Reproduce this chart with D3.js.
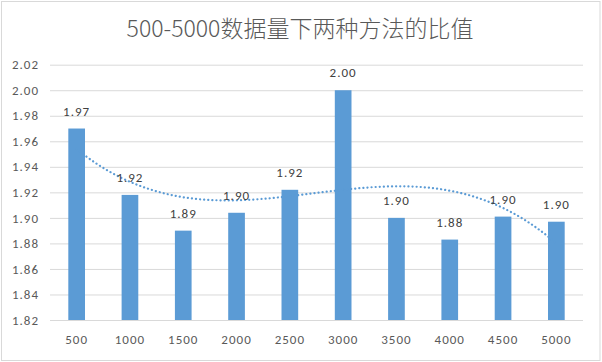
<!DOCTYPE html>
<html>
<head>
<meta charset="utf-8">
<script src="https://cdn.jsdelivr.net/npm/d3@7"></script>
<style>
  body { margin: 0; background: #fff; }
  svg text { font-family: Calibri, Carlito, "Liberation Sans", "Noto Sans", sans-serif; }
</style>
</head>
<body>
<svg id="chart" width="602" height="362"></svg>
<script>
const categories = ['500', '1000', '1500', '2000', '2500', '3000', '3500', '4000', '4500', '5000']
const ratios = [1.970, 1.918, 1.890, 1.904, 1.922, 2.000, 1.900, 1.883, 1.901, 1.897]
const yTicks = [1.82, 1.84, 1.86, 1.88, 1.90, 1.92, 1.94, 1.96, 1.98, 2.00, 2.02]
const title = '500-5000数据量下两种方法的比值'

const svg = d3.select('#chart')
const width = +svg.attr('width')
const height = +svg.attr('height')
const barColor = '#5b9bd5'
const gridColor = '#d9d9d9'
const textColor = '#595959'

const plotLeft = 50, plotRight = 583, plotTop = 64.7, plotBottom = 320

// outer border
svg.append('rect')
  .attr('x', 1.5).attr('y', 1.5)
  .attr('width', width - 3.5).attr('height', height - 3)
  .attr('fill', '#fff')
  .attr('stroke', gridColor)

svg.append('text')
  .attr('x', 300).attr('y', 37)
  .attr('text-anchor', 'middle')
  .attr('font-size', '23px')
  .attr('fill', textColor)
  .style('font-family', '"Noto Sans CJK SC", "Noto Sans", sans-serif')
  .style('font-weight', 300)
  .text(title)

const x = d3.scaleBand()
  .domain(categories)
  .range([plotLeft, plotRight])
  .paddingInner(0.687)
  .paddingOuter(0.687 / 2)

const y = d3.scaleLinear()
  .domain([1.82, 2.02])
  .range([plotBottom, plotTop])

// grid
const yAxis = d3.axisLeft(y)
  .tickValues(yTicks)
  .tickFormat(d3.format('.2f'))
  .tickSize(-(plotRight - plotLeft))
  .tickPadding(11)

const gy = svg.append('g')
  .attr('transform', `translate(${plotLeft},0)`)
  .call(yAxis)
gy.select('.domain').remove()
gy.selectAll('.tick line').attr('stroke', gridColor).attr('stroke-width', 1)
gy.selectAll('.tick text')
  .attr('fill', textColor)
  .attr('font-size', '13px')
  .style('letter-spacing', '1px')

// bars
svg.append('g').selectAll('rect')
  .data(ratios)
  .join('rect')
  .attr('x', (d, i) => x(categories[i]))
  .attr('y', d => y(d))
  .attr('width', x.bandwidth())
  .attr('height', d => y(1.82) - y(d))
  .attr('fill', barColor)

// x labels
svg.append('g').selectAll('text')
  .data(categories)
  .join('text')
  .attr('x', d => x(d) + x.bandwidth() / 2)
  .attr('y', 343.5)
  .attr('text-anchor', 'middle')
  .attr('font-size', '13px')
  .attr('fill', textColor)
  .style('letter-spacing', '1px')
  .text(d => d)

// polynomial trendline (order 3, least squares on index 1..n)
function polyFit(ys, order) {
  const n = ys.length, m = order + 1
  const A = [], b = []
  for (let r = 0; r < m; r++) {
    A.push(new Array(m).fill(0)); b.push(0)
  }
  ys.forEach((v, i) => {
    const xi = i + 1
    for (let r = 0; r < m; r++) {
      for (let c = 0; c < m; c++) A[r][c] += Math.pow(xi, r + c)
      b[r] += v * Math.pow(xi, r)
    }
  })
  // gaussian elimination
  for (let c = 0; c < m; c++) {
    let p = c
    for (let r = c + 1; r < m; r++) if (Math.abs(A[r][c]) > Math.abs(A[p][c])) p = r
    ;[A[c], A[p]] = [A[p], A[c]]; [b[c], b[p]] = [b[p], b[c]]
    for (let r = c + 1; r < m; r++) {
      const f = A[r][c] / A[c][c]
      for (let k = c; k < m; k++) A[r][k] -= f * A[c][k]
      b[r] -= f * b[c]
    }
  }
  const coef = new Array(m).fill(0)
  for (let r = m - 1; r >= 0; r--) {
    let s = b[r]
    for (let k = r + 1; k < m; k++) s -= A[r][k] * coef[k]
    coef[r] = s / A[r][r]
  }
  return t => coef.reduce((acc, c, k) => acc + c * Math.pow(t, k), 0)
}

const trend = polyFit(ratios, 3)
const xt = d3.scaleLinear()
  .domain([1, categories.length])
  .range([x(categories[0]) + x.bandwidth() / 2, x(categories[categories.length - 1]) + x.bandwidth() / 2])
const tPts = d3.range(1, categories.length + 0.001, 0.05)

svg.append('path')
  .datum(tPts)
  .attr('d', d3.line().x(t => xt(t)).y(t => y(trend(t))))
  .attr('fill', 'none')
  .attr('stroke', barColor)
  .attr('stroke-width', 2.2)
  .attr('stroke-linecap', 'round')
  .attr('stroke-dasharray', '0.1,4')

// data labels
svg.append('g').selectAll('text')
  .data(ratios)
  .join('text')
  .attr('x', (d, i) => x(categories[i]) + x.bandwidth() / 2)
  .attr('y', d => y(d) - 13)
  .attr('text-anchor', 'middle')
  .attr('font-size', '13px')
  .attr('fill', '#404040')
  .style('letter-spacing', '1px')
  .text(d => d.toFixed(2))
</script>
</body>
</html>
